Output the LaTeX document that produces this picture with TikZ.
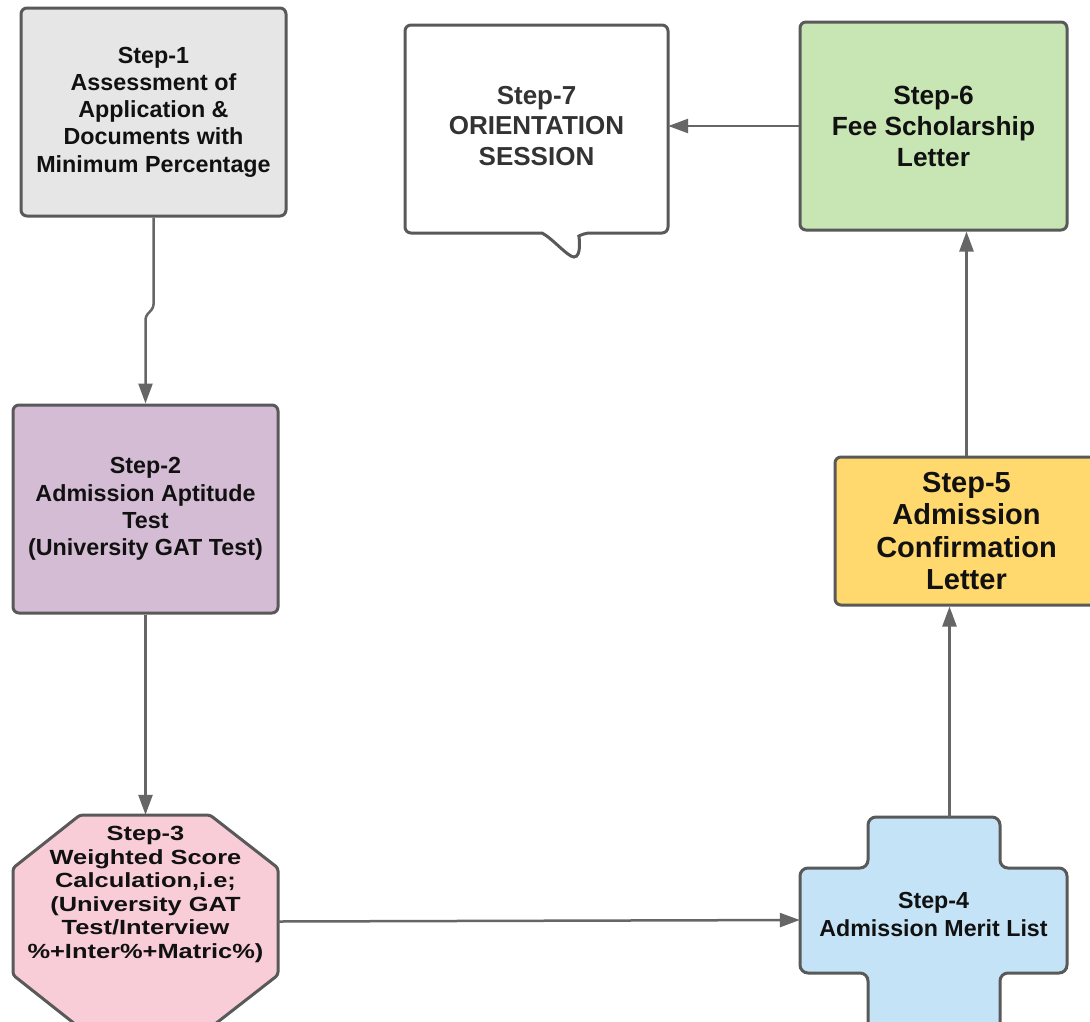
\documentclass[tikz,border=0pt]{standalone}
\usepackage{fontspec}
\setmainfont{Liberation Sans}
\newfontfamily\widesans[FakeStretch=1.24]{Liberation Sans}
\usetikzlibrary{arrows.meta}
\definecolor{bordergray}{HTML}{595959}
\definecolor{linegray}{HTML}{666666}
\definecolor{fillgray}{HTML}{E6E6E6}
\definecolor{fillpurple}{HTML}{D4BCD4}
\definecolor{fillpink}{HTML}{F8CDD8}
\definecolor{fillblue}{HTML}{C5E3F6}
\definecolor{fillyellow}{HTML}{FFD86E}
\definecolor{fillgreen}{HTML}{C8E6B4}
\definecolor{textdark}{HTML}{111111}
\tikzset{
  stepbox/.style={draw=bordergray, line width=3pt, rounded corners=6pt,
    minimum width=265pt, minimum height=208pt, inner sep=0pt, align=center,
    text=textdark, font=\bfseries\fontsize{23.3}{27.3}\selectfont},
  shapeline/.style={draw=bordergray, line width=3pt},
  conn/.style={draw=linegray, line width=2.5pt,
    -{Triangle[length=20pt,width=14pt]}},
  txt/.style={align=center, text=textdark, inner sep=0pt}
}
\begin{document}
\begin{tikzpicture}[x=1pt,y=-1pt]
\useasboundingbox[fill=white] (0,0) rectangle (1090,1021);
% Step-1
\node[stepbox, fill=fillgray] (s1) at (153.5,112) {Step-1\\Assessment of\\Application \&\\Documents with\\Minimum Percentage};
% Step-2
\node[stepbox, fill=fillpurple] (s2) at (145.5,509) {Step-2\\Admission Aptitude\\Test\\(University GAT Test)};
% Step-3 octagon
\filldraw[shapeline, fill=fillpink, rounded corners=3pt]
  (80,815) -- (210,815) -- (278,868) -- (278,975) -- (210,1028) -- (80,1028) -- (13,975) -- (13,868) -- cycle;
\node[inner sep=0pt, minimum width=265pt, minimum height=213pt] (s3) at (145.5,921.5) {};
\node[txt, font=\widesans\bfseries\fontsize{20.5}{23.5}\selectfont] (s3t) at ([yshift=27pt]s3.center)
  {Step-3\\Weighted Score\\Calculation,i.e;\\(University GAT\\Test/Interview\\\%+Inter\%+Matric\%)};
% Step-4 cross
\filldraw[shapeline, fill=fillblue, rounded corners=8pt]
  (868,817) -- (1000,817) -- (1000,868) -- (1067,868) -- (1067,973) -- (1000,973) -- (1000,1035) -- (868,1035) -- (868,973) -- (800,973) -- (800,868) -- (868,868) -- cycle;
\node[inner sep=0pt, minimum width=267pt, minimum height=206pt] (s4) at (933.5,920) {};
\node[txt, font=\bfseries\fontsize{23.2}{28}\selectfont] (s4t) at ([yshift=6pt]s4.center)
  {Step-4\\Admission Merit List};
% Step-5
\node[stepbox, fill=fillyellow, minimum width=263pt, minimum height=148pt,
  font=\bfseries\fontsize{29}{32.5}\selectfont] (s5) at (966.5,531) {Step-5\\Admission\\Confirmation\\Letter};
% Step-6
\node[stepbox, fill=fillgreen, minimum width=267pt, minimum height=208pt,
  font=\bfseries\fontsize{26.3}{31}\selectfont] (s6) at (933.5,126) {Step-6\\Fee Scholarship\\Letter};
% Step-7 speech bubble
\filldraw[shapeline, fill=white, rounded corners=6pt]
  (405,25) -- (668,25) -- (668,233) -- (584,233)
  [sharp corners] .. controls (579,236) and (582,257) .. (574,257)
  .. controls (568,257) and (552,238) .. (542,233)
  [rounded corners=6pt] -- (405,233) -- cycle;
\node[txt, minimum width=263pt, minimum height=202pt, text=black!80,
  font=\bfseries\fontsize{26}{30.5}\selectfont] (s7) at (536.5,126) {Step-7\\ORIENTATION\\SESSION};
% connectors
\draw[conn, rounded corners=3pt] (s1.south) -- ++(0,90) -- ++(-8,9) -- (s2.north);
\draw[conn] (s2.south) -- (s3.north);
\draw[conn] (s3.east) -- (s4.west);
\draw[conn] ([xshift=16pt]s4.north) -- ([xshift=16pt]s4.north |- s5.south);
\draw[conn] (s5.north) -- (s5.north |- s6.south);
\draw[conn] (s6.west) -- (s7.east);
\end{tikzpicture}
\end{document}
